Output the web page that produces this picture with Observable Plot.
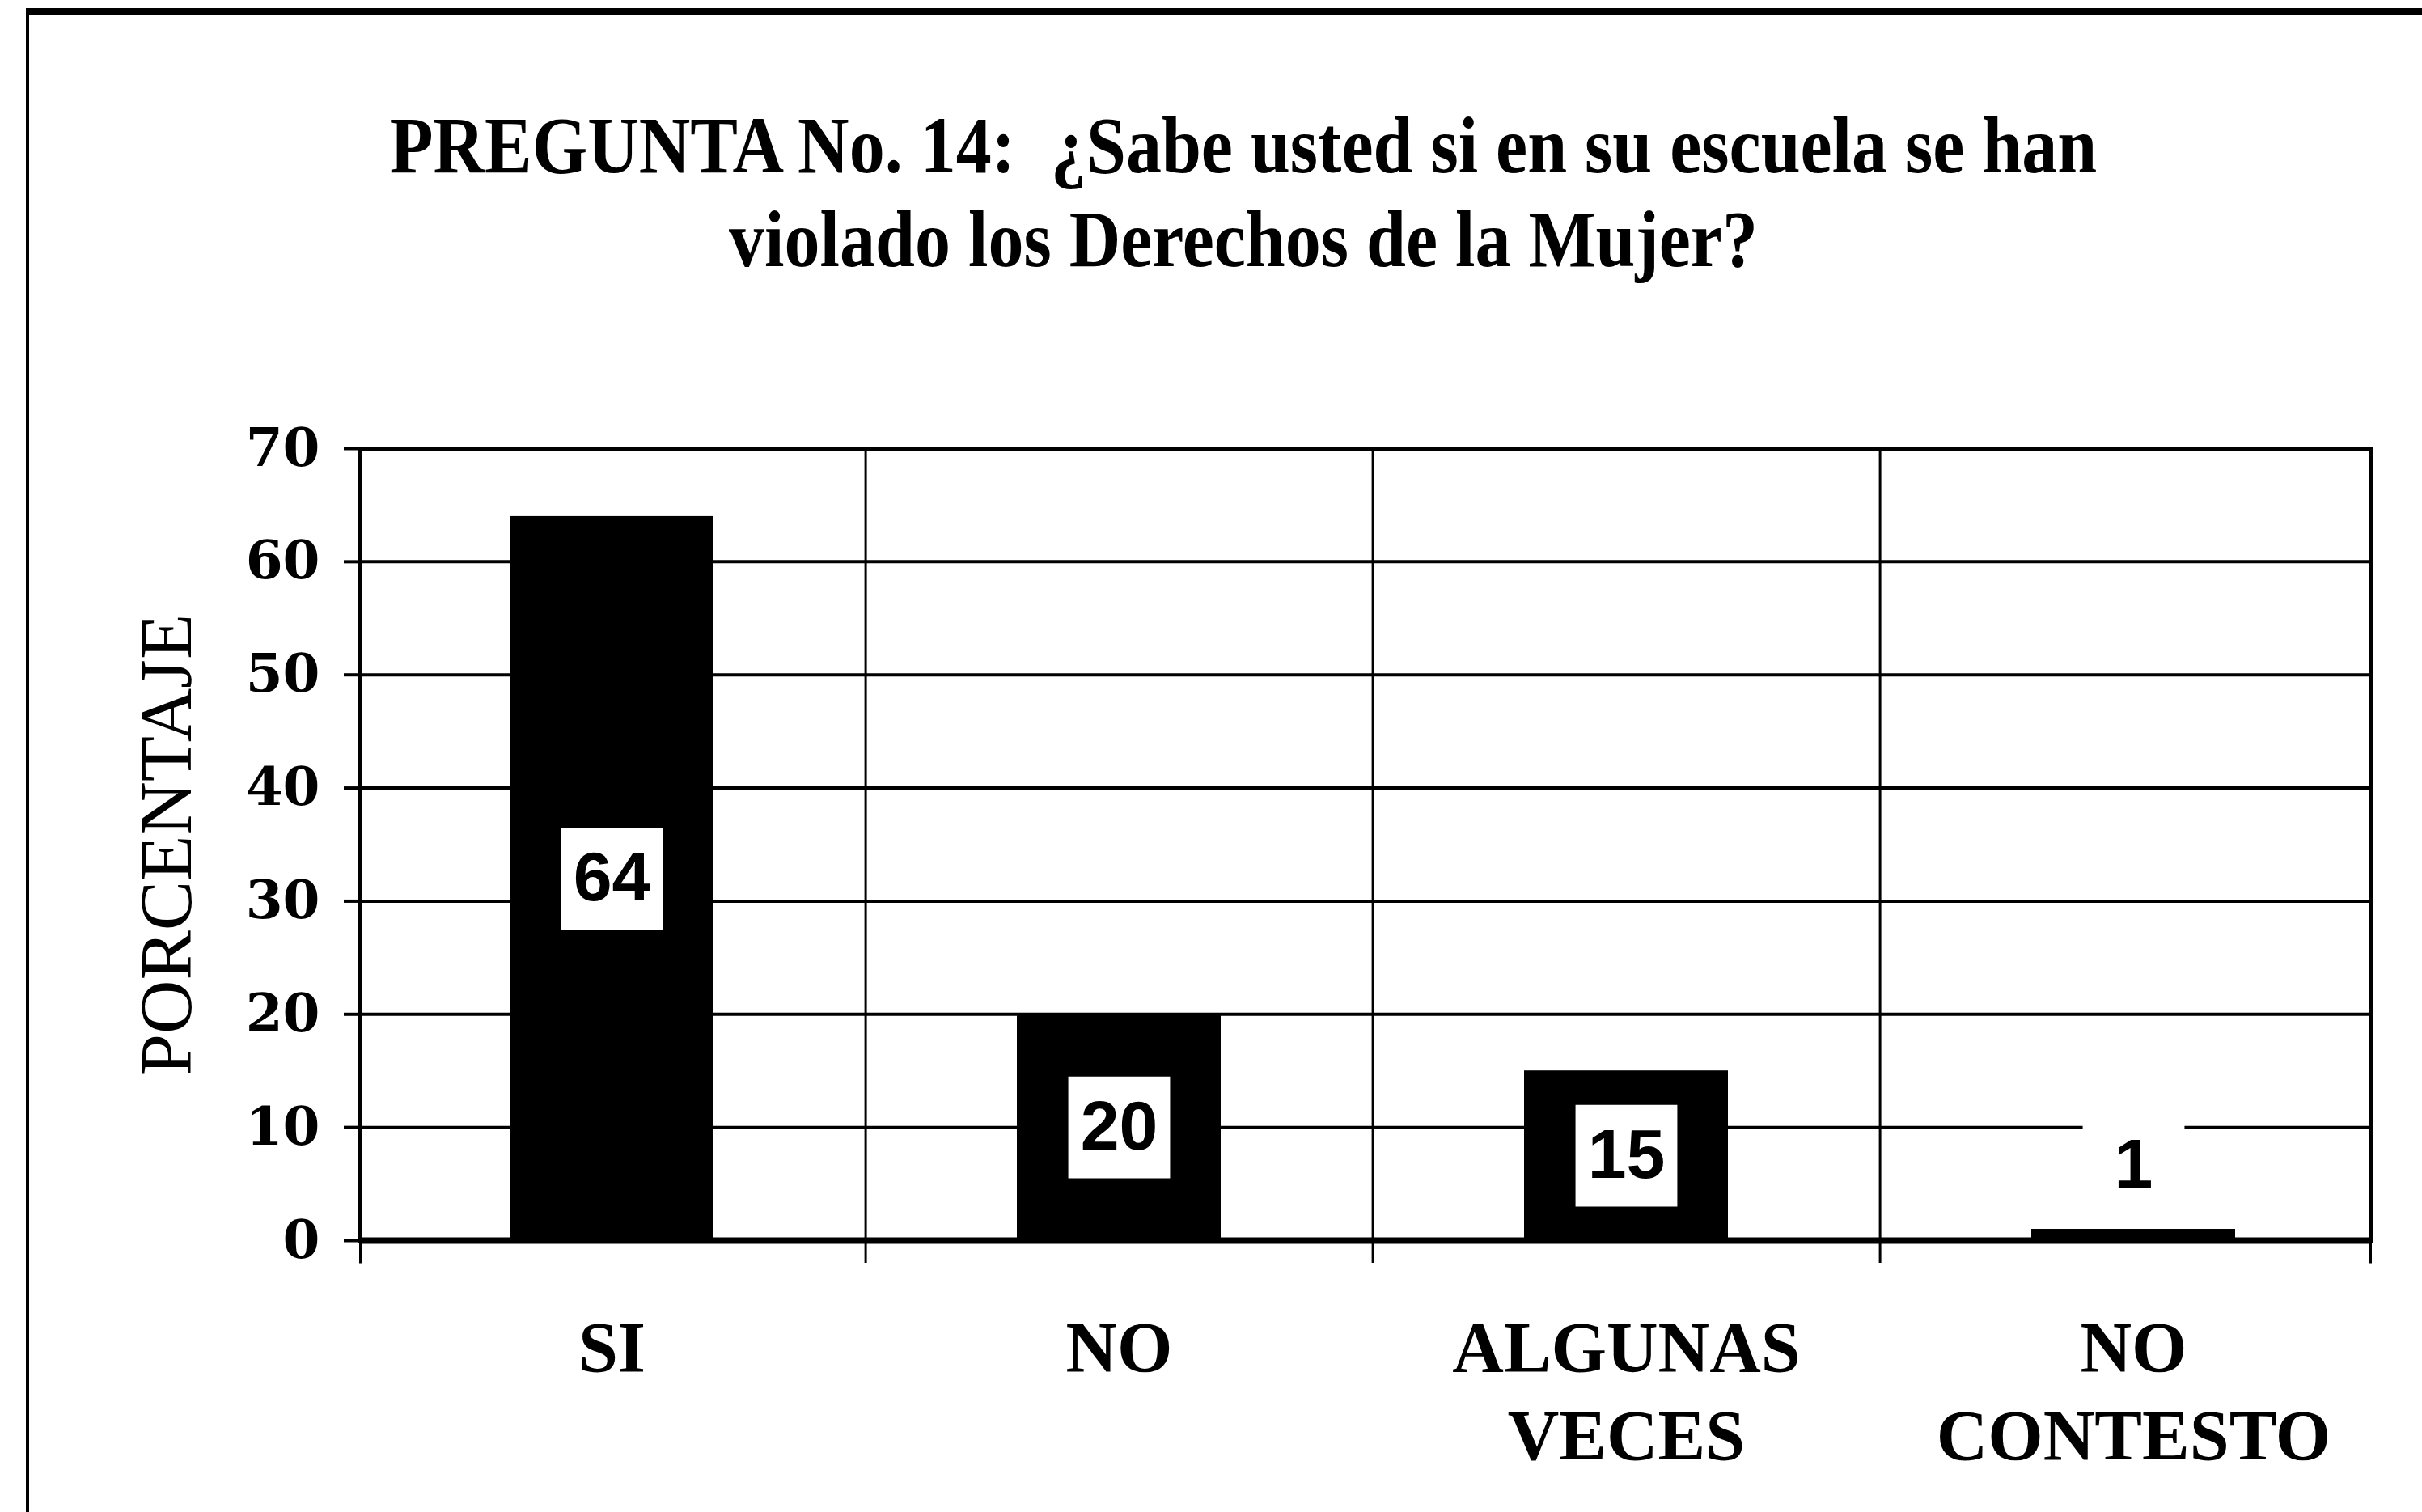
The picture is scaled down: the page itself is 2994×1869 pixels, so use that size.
<!DOCTYPE html>
<html><head><meta charset="utf-8">
<script src="https://cdn.jsdelivr.net/npm/d3@7"></script>
<script src="https://cdn.jsdelivr.net/npm/@observablehq/plot@0.6"></script>
<style>
html,body{margin:0;padding:0;background:#fff;width:2994px;height:1869px;overflow:hidden;}
#page{position:relative;width:2994px;height:1869px;}
#border{position:absolute;z-index:5;pointer-events:none;left:32px;top:10px;width:3100px;height:2000px;border-top:9px solid #000;border-left:4px solid #000;}
#title{position:absolute;top:135px;left:1537px;transform:translateX(-50%) scaleY(1.12);transform-origin:center;white-space:nowrap;text-align:center;font-family:"Liberation Serif","Times New Roman",serif;font-weight:bold;font-size:88px;line-height:103px;color:#000;}
#chart{position:absolute;left:0;top:400px;}
</style></head><body>
<div id="page"><div id="border"></div><div id="title">PREGUNTA No. 14:&nbsp; ¿Sabe usted si en su escuela se han<br>violado los Derechos de la Mujer?</div><div id="chart"></div></div>
<script>
const categories = ["SI", "NO", "ALGUNAS\nVECES", "NO\nCONTESTO"];
const values = [64, 20, 15, 1];
const yTicks = [0, 10, 20, 30, 40, 50, 60, 70];
const yLabel = "PORCENTAJE";

const data = categories.map((c, i) => ({category: c, value: values[i]}));

const W = 2994, H = 1469, mL = 445, mR = 64, mT = 154, mB = 336;
const pIn = 0.598, pOut = 0.28, align = 0.526;
const plotW = W - mL - mR;
const plotH = H - mT - mB;
const step = plotW / (categories.length - pIn + 2 * pOut);
const boxR = 71;
const serif = '"Liberation Serif", "Times New Roman", serif';
const sans = '"Liberation Sans", Arial, sans-serif';

const inside = data.filter(d => d.value >= 10);
const above = data.filter(d => d.value < 10);

const chart = Plot.plot({
  width: W, height: H, marginLeft: mL, marginRight: mR, marginTop: mT, marginBottom: mB,
  style: {background: "transparent", color: "#000"},
  x: {type: "band", domain: categories, paddingInner: pIn, paddingOuter: pOut, align, axis: null},
  y: {domain: [0, 70], axis: null},
  marks: [
    Plot.gridY(yTicks, {stroke: "#000", strokeOpacity: 1, strokeWidth: 4}),
    Plot.ruleX(categories.slice(0, -1), {x: d => d, dx: step / 2, stroke: "#000", strokeWidth: 3}),
    Plot.barY(data, {x: "category", y: "value", fill: "#000"}),
    Plot.frame({stroke: "#000", strokeWidth: 5}),
    // outer-edge x ticks below the baseline (only the two short sides of this strip are stroked)
    Plot.frame({stroke: "#000", strokeWidth: 3, insetTop: plotH, insetBottom: -28,
      strokeDasharray: `0,${plotW},28,${plotW},28`}),
    Plot.ruleY([0], {stroke: "#000", strokeWidth: 8}),
    Plot.axisY(yTicks, {tickSize: 20, tickPadding: 30, fontSize: 66, fontWeight: "bold", fontFamily: '"DejaVu Serif", serif', strokeWidth: 4, label: null}),
    Plot.axisX(categories.slice(0, -1), {tickSize: 28, tickFormat: () => "", dx: step / 2, strokeWidth: 3, label: null}),
    Plot.axisX(categories, {tickSize: 0, tickPadding: 84, fontSize: 88, fontWeight: "bold", fontFamily: serif, lineHeight: 1.24, label: null}),
    Plot.text([yLabel], {frameAnchor: "left", textAnchor: "middle", dx: -239, rotate: -90, fontSize: 92, fontFamily: serif, text: d => d, fill: "#000"}),
    Plot.dot(inside, {x: "category", y: d => d.value / 2, symbol: "square", r: boxR, fill: "#fff"}),
    Plot.text(inside, {x: "category", y: d => d.value / 2, text: d => String(d.value), fontSize: 86, fontWeight: "bold", fontFamily: sans, fill: "#000"}),
    Plot.dot(above, {x: "category", y: "value", dy: -79, symbol: "square", r: boxR, fill: "#fff"}),
    Plot.text(above, {x: "category", y: "value", dy: -79, text: d => String(d.value), fontSize: 86, fontWeight: "bold", fontFamily: sans, fill: "#000"})
  ]
});
document.getElementById("chart").appendChild(chart);
</script>
</body></html>
